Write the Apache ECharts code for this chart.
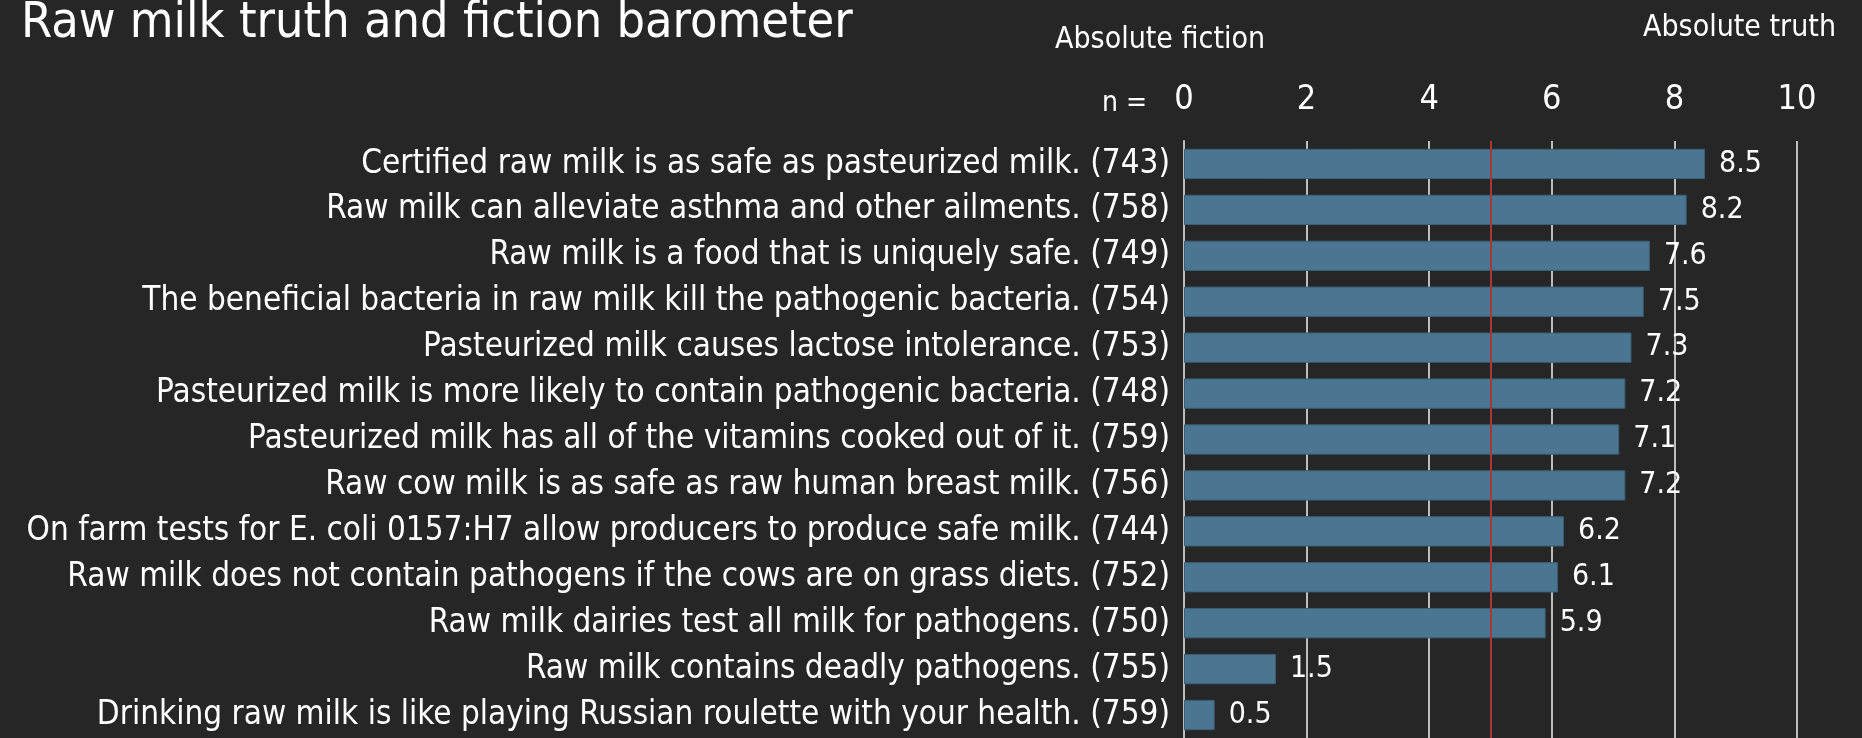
<!DOCTYPE html>
<html>
<head>
<meta charset="utf-8">
<script src="https://cdn.jsdelivr.net/npm/echarts@6/dist/echarts.min.js"></script>
<style>
html,body{margin:0;padding:0;background:#262626;}
#c{width:1862px;height:738px;}
</style>
</head>
<body>
<div id="c"></div>
<script>
const statements = [
  "Certified raw milk is as safe as pasteurized milk.",
  "Raw milk can alleviate asthma and other ailments.",
  "Raw milk is a food that is uniquely safe.",
  "The beneficial bacteria in raw milk kill the pathogenic bacteria.",
  "Pasteurized milk causes lactose intolerance.",
  "Pasteurized milk is more likely to contain pathogenic bacteria.",
  "Pasteurized milk has all of the vitamins cooked out of it.",
  "Raw cow milk is as safe as raw human breast milk.",
  "On farm tests for E. coli 0157:H7 allow producers to produce safe milk.",
  "Raw milk does not contain pathogens if the cows are on grass diets.",
  "Raw milk dairies test all milk for pathogens.",
  "Raw milk contains deadly pathogens.",
  "Drinking raw milk is like playing Russian roulette with your health."
];
const respondents = [743, 758, 749, 754, 753, 748, 759, 756, 744, 752, 750, 755, 759];
const scores = [8.5, 8.2, 7.6, 7.5, 7.3, 7.2, 7.1, 7.2, 6.2, 6.1, 5.9, 1.5, 0.5];
const midpoint = 5;

const FONT = '"Liberation Sans Narrow", "DejaVu Sans Condensed", "Liberation Sans", sans-serif';
const categories = statements.map((s, i) => s + " (" + respondents[i] + ")");

const chart = echarts.init(document.getElementById('c'), null, {renderer: 'canvas'});
chart.setOption({
  backgroundColor: '#262626',
  animation: false,
  title: [
    {text: 'Raw milk truth and fiction barometer', left: 16, top: -6,
     textStyle: {color: '#ffffff', fontFamily: FONT, fontSize: 50, fontWeight: 'normal'}},
    {text: 'Absolute fiction', left: 1050, top: 20,
     textStyle: {color: '#ffffff', fontFamily: FONT, fontSize: 30, fontWeight: 'normal'}},
    {text: 'Absolute truth', right: 21, top: 8,
     textStyle: {color: '#ffffff', fontFamily: FONT, fontSize: 30, fontWeight: 'normal'}},
    {text: 'n =', left: 1097, top: 85,
     textStyle: {color: '#ffffff', fontFamily: FONT, fontSize: 28, fontWeight: 'normal'}}
  ],
  grid: {left: 1184, right: 65, top: 141, bottom: 0, containLabel: false},
  xAxis: {
    type: 'value', position: 'top', min: 0, max: 10, interval: 2,
    axisLine: {show: false}, axisTick: {show: false},
    axisLabel: {color: '#ffffff', fontFamily: FONT, fontSize: 34, margin: 24},
    splitLine: {show: true, lineStyle: {color: '#bdbdbd', width: 2}}
  },
  yAxis: {
    type: 'category', inverse: true, data: categories,
    axisLine: {show: true, lineStyle: {color: '#bdbdbd', width: 2}},
    axisTick: {show: false},
    axisLabel: {color: '#ffffff', fontFamily: FONT, fontSize: 33, margin: 14}
  },
  series: [{
    type: 'bar', data: scores, barWidth: '66%',
    itemStyle: {color: '#4a7691', borderColor: '#3b5f76', borderWidth: 1},
    label: {show: true, position: 'right', distance: 14, color: '#ffffff',
            fontFamily: FONT, fontSize: 30},
    markLine: {
      silent: true, symbol: 'none', label: {show: false},
      lineStyle: {color: '#a83838', width: 2, type: 'solid'},
      data: [{xAxis: midpoint}]
    }
  }]
});
</script>
</body>
</html>
